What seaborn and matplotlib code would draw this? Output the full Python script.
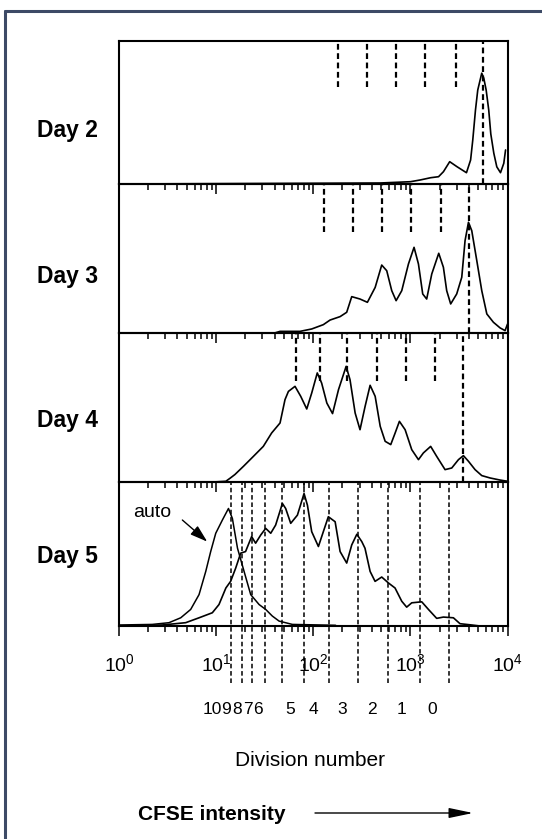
import numpy as np
import pandas as pd
import matplotlib
matplotlib.use("Agg")
import matplotlib.pyplot as plt
import seaborn as sns
from matplotlib.lines import Line2D
from matplotlib.ticker import LogLocator, NullFormatter, FixedLocator, FixedFormatter

# ---------------- data ----------------
days = ["Day 2", "Day 3", "Day 4", "Day 5"]

day2_x = [1, 490, 1000, 1260, 1620, 1950, 2190, 2540, 3020, 3780, 4170, 4390, 4680,
          4940, 5430, 5700, 6030, 6410, 6730, 7230, 7760, 8470, 9160, 9550]
day2_y = [0, 0.7, 1.6, 2.8, 4.4, 5.1, 8.6, 15.6, 12.1, 7.9, 16.8, 30.8, 51.7,
          65.7, 77.5, 74, 65.7, 51.7, 35, 21.5, 12, 7.9, 14.5, 23.8]

day3_x = [1, 40, 45.5, 73.1, 96.4, 127, 149, 189, 221, 249, 303, 361, 434, 507, 571,
          643, 713, 815, 955, 1091, 1211, 1340, 1472, 1660, 1959, 2188, 2366, 2600,
          2999, 3381, 3656, 3963, 4285, 4831, 5433, 6124, 7161, 8395, 9441, 10000]
day3_y = [0, 0, 1.1, 1.1, 2.7, 5.6, 8.7, 11, 13.9, 24.4, 22.8, 20.6, 30.6, 45.6, 41.8,
          28.4, 21.7, 28.4, 46.3, 57.5, 46.3, 26.2, 22.8, 39.6, 53.5, 44.1, 28.4, 19.5,
          26.2, 37.4, 62, 74.3, 68.7, 48.5, 28.4, 12.8, 7.2, 3.4, 1.6, 6]

day4_x = [1, 9.3, 12.6, 13.9, 15.6, 19.1, 24.2, 30.6, 37.3, 45.5, 51.2, 55.5, 64.9,
          74.3, 85.7, 96.4, 110, 122, 138, 158, 182, 218, 239, 270, 303, 342, 385,
          434, 489, 550, 628, 697, 771, 883, 1033, 1211, 1361, 1618, 1866, 2275,
          2667, 3126, 3516, 3963, 4634, 5433, 6622, 8395, 10000]
day4_y = [0, 0, 0.5, 2.5, 5, 10.5, 17.2, 23.9, 32.9, 39.6, 55.3, 60.8, 64.2,
          57.5, 49, 59.7, 73.2, 66.4, 53, 45.9, 62, 77.6, 68.7, 46.3, 35.1, 50.8, 64.9,
          57.5, 37.4, 27.3, 25.1, 32.9, 40.7, 35.1, 21.7, 15, 19.5, 23.9, 17.2, 8.3,
          9.4, 15, 17.7, 13.9, 8.3, 4.3, 2.7, 1.3, 0.5]

day5_x = [1, 2.79, 4.86, 6.67, 9.14, 10.7, 12.6, 14.1, 15.9, 17.9, 20.1, 23.2, 25.5,
          28.8, 32.4, 36.5, 41, 48.1, 52, 58.6, 68.7, 80.4, 87.1, 96.4, 113, 127, 143,
          168, 189, 221, 249, 281, 316, 341, 385, 433, 507, 594, 695, 815, 916, 1033,
          1309, 1535, 1866, 2188, 2773, 3243, 4285, 5212]
day5_y = [0, 0.7, 2.3, 5.7, 9.2, 14.9, 26.4, 31, 40.2, 50.6, 51.7, 62.1, 57.5,
          63.2, 67.8, 64.4, 70.1, 85.1, 81.6, 71.3, 77, 92, 83.9, 65.5, 55.2, 65.5, 75.9,
          72.4, 51.7, 43.7, 56.3, 63.7, 58.6, 54, 37.9, 31, 34, 29.9, 26.4, 17.2, 13.1,
          16.1, 16.8, 11.5, 5.3, 6.2, 5.7, 1.6, 0.7, 0]

auto_x = [1, 2.2, 3.27, 4.32, 5.47, 6.67, 7.82, 8.79, 9.91, 11.6, 13.4, 14.7, 16.6,
          19.4, 22.7, 27.7, 32.4, 37.9, 44.5, 61, 170]
auto_y = [0.7, 1.1, 2.3, 5.7, 11.5, 21.8, 37.9, 51.7, 64.4, 73.6, 81.6, 74.7, 54,
          37.9, 21.8, 14.9, 11.5, 6.9, 3.4, 1.1, 0.5]

# division peak positions (CFSE intensity), last entry = undivided (division 0)
day2_div = [178, 355, 710, 1410, 2950, 5620]
day3_div = [128, 256, 509, 1023, 2089, 3981]
day4_div = [66.8, 116, 222, 450, 910, 1778, 3467]
day5_div = [14.2, 18.4, 23.5, 32.2, 47.9, 80.7, 144, 289, 593, 1259, 2512]

division_numbers = ["10", "9", "8", "7", "6", "5", "4", "3", "2", "1", "0"]
xtick_values = [1, 10, 100, 1000, 10000]
xtick_labels = ["$10^{0}$", "$10^{1}$", "$10^{2}$", "$10^{3}$", "$10^{4}$"]

# ---------------- style ----------------
sns.set_theme(style="white")
plt.rcParams["font.family"] = ["Liberation Sans", "DejaVu Sans"]
plt.rcParams["mathtext.default"] = "regular"
plt.rcParams["mathtext.fontset"] = "custom"
plt.rcParams["mathtext.rm"] = "Liberation Sans"

W, H = 542, 839
fig = plt.figure(figsize=(W / 100, H / 100), dpi=100)
fig.patch.set_facecolor("white")

panel_px = [(41, 184), (184, 333), (333, 482), (482, 626)]
left_px, right_px = 119, 507.5

curves = [(day2_x, day2_y), (day3_x, day3_y), (day4_x, day4_y), (day5_x, day5_y)]
divs = [day2_div, day3_div, day4_div, day5_div]
label_y_px = [130, 276, 420, 557]

axes = []
for i, (top, bot) in enumerate(panel_px):
    ax = fig.add_axes([left_px / W, 1 - bot / H, (right_px - left_px) / W, (bot - top) / H])
    ax.set_facecolor("none")
    ax.set_xscale("log")
    x, y = curves[i]
    df = pd.DataFrame({"cfse": x, "count": y})
    sns.lineplot(data=df, x="cfse", y="count", ax=ax, color="black", linewidth=1.2,
                 estimator=None, sort=False, legend=False, solid_joinstyle="round")
    if i == 3:
        dfa = pd.DataFrame({"cfse": auto_x, "count": auto_y})
        sns.lineplot(data=dfa, x="cfse", y="count", ax=ax, color="black", linewidth=1.1,
                     estimator=None, sort=False, legend=False, solid_joinstyle="round")
    ax.set_xlim(1, 10000)
    ax.set_ylim(0, 100)
    ax.set_xlabel("")
    ax.set_ylabel("")
    ax.set_yticks([])
    for s in ax.spines.values():
        s.set_visible(True)
        s.set_color("black")
        s.set_linewidth(1.5)
    ax.xaxis.set_major_locator(FixedLocator(xtick_values))
    ax.xaxis.set_minor_locator(LogLocator(base=10, subs=np.arange(2, 10)))
    ax.xaxis.set_minor_formatter(NullFormatter())
    ax.tick_params(axis="x", which="major", direction="out", length=7.5, width=1.1,
                   color="black", bottom=True, top=False, pad=12)
    ax.tick_params(axis="x", which="minor", direction="out", length=4.5, width=1.1,
                   color="black", bottom=True, top=False)
    if i < 3:
        ax.xaxis.set_major_formatter(NullFormatter())
        dv = divs[i]
        for j, d in enumerate(dv):
            ymin = 0.0 if j == len(dv) - 1 else 0.675
            ax.axvline(d, ymin=ymin, ymax=1, color="black", lw=1.6,
                       linestyle=(0, (2.6, 1.6)))
    else:
        ax.xaxis.set_major_formatter(FixedFormatter(xtick_labels))
        for lab in ax.get_xticklabels():
            lab.set_fontsize(14)
            lab.set_color("black")
        for d in divs[i]:
            ax.axvline(d, ymin=-0.393, ymax=1, color="black", lw=1.1,
                       linestyle=(0, (3, 1.8)), clip_on=False)
        ax.text(2.19, 79, "auto", ha="center", va="center", fontsize=14, color="black")
        ax.annotate("", xy=(8.1, 58.6), xytext=(4.49, 73.6),
                    arrowprops=dict(arrowstyle="-|>,head_length=0.75,head_width=0.24",
                                    mutation_scale=14, lw=1.0, color="black",
                                    shrinkA=0, shrinkB=0))
    fig.text(37 / W, 1 - label_y_px[i] / H, days[i], ha="left", va="center",
             fontsize=16.5, fontweight="bold", color="black")
    axes.append(ax)

# division number labels
div_label_px = [212.5, 226.5, 237, 247.5, 258, 290, 313.5, 342, 372, 401.5, 432]
for lab, xp in zip(division_numbers, div_label_px):
    fig.text(xp / W, 1 - 710 / H, lab, ha="center", va="center", fontsize=12.5, color="black")

fig.text(310 / W, 1 - 760 / H, "Division number", ha="center", va="center",
         fontsize=15, color="black")
fig.text(212 / W, 1 - 815 / H, "CFSE intensity", ha="center", va="center",
         fontsize=15, fontweight="bold", color="black")
axes[3].annotate("", xy=(473 / W, 1 - 813 / H), xytext=(315 / W, 1 - 813 / H),
                 xycoords="figure fraction", textcoords="figure fraction",
                 arrowprops=dict(arrowstyle="-|>,head_length=1.05,head_width=0.22",
                                 mutation_scale=14, lw=1.0, color="black",
                                 shrinkA=0, shrinkB=0))

# outer frame (top and left edges)
frame_c = "#3d4a66"
fig.add_artist(Line2D([5 / W, 1], [1 - 11 / H, 1 - 11 / H], color=frame_c, lw=2.2,
                      transform=fig.transFigure))
fig.add_artist(Line2D([5 / W, 5 / W], [0, 1 - 11 / H], color=frame_c, lw=2.2,
                      transform=fig.transFigure))

fig.savefig("out.png", dpi=100, facecolor="white")
